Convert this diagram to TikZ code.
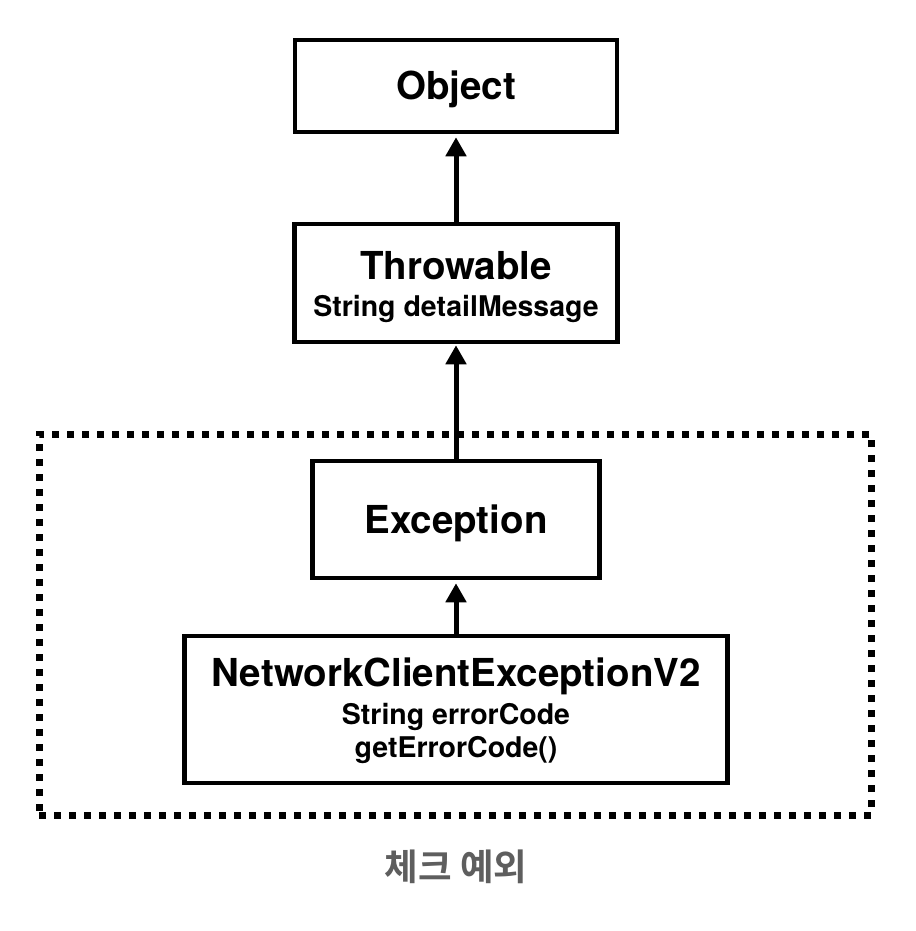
\documentclass[tikz,border=0pt]{standalone}
\usepackage{fontspec}
\setmainfont{TeX Gyre Heros}
\newfontfamily\krfont{Noto Sans CJK KR}[BoldFont={Noto Sans CJK KR Bold}]
\usetikzlibrary{arrows.meta}
\definecolor{labelgray}{RGB}{94,94,94}
\newcommand{\memb}[1]{{\fontsize{28.5}{34}\selectfont #1}}

\begin{document}
\begin{tikzpicture}[x=1pt,y=-1pt,>={Triangle[length=19pt,width=20pt]},
	klass/.style={draw,line width=4.5pt,inner sep=0pt,align=center,font=\fontsize{38.5}{38}\selectfont\bfseries},
	upline/.style={->,line width=5pt}
	]

	\useasboundingbox (0,0) rectangle (915,931);

	% checked exceptions group
	\node[draw,line width=7pt,dash pattern=on 7pt off 8pt,minimum width=832pt,minimum height=381pt] (grp) at (455,624.5) {};
	\node[font=\krfont\bfseries\fontsize{36.5}{42}\selectfont,text=labelgray] (lbl) at (456,867) {체크 예외};

	\node[klass,minimum width=322pt,minimum height=92pt,text height=27.7pt,text depth=0pt] (obj) at (456,86) {Object};
	\node[klass,minimum width=323pt,minimum height=118pt] (thr) at (456,283) {\rule{0pt}{37pt}Throwable\\[-1pt]\memb{String detailMessage}};
	\node[klass,minimum width=287pt,minimum height=117pt,text height=27.7pt,text depth=0pt] (exc) at (456,519.5) {Exception};
	\node[klass,minimum width=543pt,minimum height=147pt] (nce) at (456,709.5) {\rule{0pt}{32pt}NetworkClientExceptionV2\\\memb{String errorCode}\\[-5pt]\memb{getErrorCode()}};

	\draw[upline,shorten >=3pt] (thr) -- (obj);
	\draw[upline,shorten >=1pt] (exc) -- (thr);
	\draw[upline,shorten >=3pt] (nce) -- (exc);

\end{tikzpicture}
\end{document}
